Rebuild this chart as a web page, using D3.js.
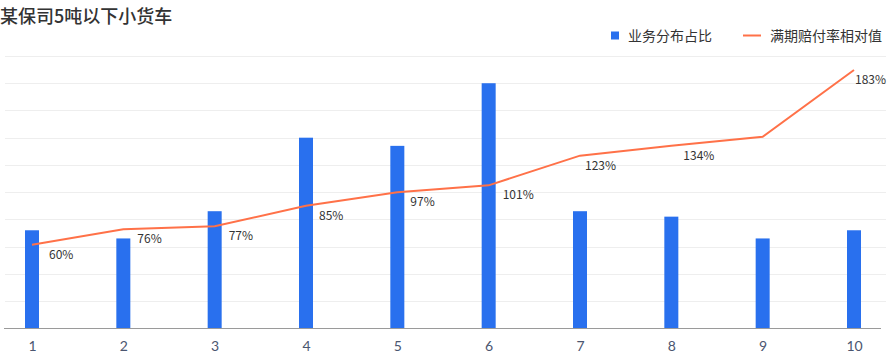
<!DOCTYPE html>
<html>
<head>
<meta charset="utf-8">
<script src="https://cdn.jsdelivr.net/npm/d3@7/dist/d3.min.js"></script>
<style>
  html, body { margin: 0; padding: 0; background: #fff; }
  svg { display: block; font-family: "Noto Sans CJK SC", "Noto Sans", sans-serif; }
</style>
</head>
<body>
<svg id="chart"></svg>
<script>
const categories = ["1", "2", "3", "4", "5", "6", "7", "8", "9", "10"];
// 业务分布占比 (left scale 0-10)
const shareValues = [3.6, 3.3, 4.3, 7.0, 6.7, 9.0, 4.3, 4.1, 3.3, 3.6];
// 满期赔付率相对值 (right scale 0-200)
const lossValues = [61.4, 72.7, 74.9, 90.0, 99.9, 105.0, 126.8, 134.1, 140.7, 189.7];
const lossLabels = ["60%", "76%", "77%", "85%", "97%", "101%", "123%", "134%", "", "183%"];
const labelDx = [17, 14, 14, 13, 13, 14, 5, 12, 12, 1];
const legendNames = ["业务分布占比", "满期赔付率相对值"];

const width = 888, height = 358;
const barColor = "#2970ee", lineColor = "#ff7148";

const svg = d3.select("#chart").attr("width", width).attr("height", height);

const x = d3.scalePoint().domain(categories).range([32, 854]);
const yBar = d3.scaleLinear().domain([0, 10]).range([328.3, 56]);
const yLine = d3.scaleLinear().domain([0, 200]).range([328.3, 56]);

// grid
svg.append("g")
  .selectAll("line")
  .data(yBar.ticks(10).filter(d => d > 0))
  .enter()
  .append("line")
  .attr("x1", 5).attr("x2", 886)
  .attr("y1", d => Math.round(yBar(d)) + 0.5)
  .attr("y2", d => Math.round(yBar(d)) + 0.5)
  .attr("stroke", "#eeeeee");

// bars
svg.append("g")
  .selectAll("rect")
  .data(shareValues)
  .enter()
  .append("rect")
  .attr("x", (d, i) => x(categories[i]) - 7)
  .attr("width", 14)
  .attr("y", d => yBar(d))
  .attr("height", d => yBar(0) - yBar(d))
  .attr("fill", barColor);

// x axis
const xAxis = svg.append("g")
  .attr("transform", `translate(0, ${Math.round(yBar(0)) + 0.5})`)
  .call(d3.axisBottom(x).tickSize(0).tickPadding(13));
xAxis.select(".domain").remove();
xAxis.append("line").attr("x1", 4).attr("x2", 881).attr("stroke", "#9a9a9a");
xAxis.selectAll("text")
  .attr("fill", "#4b5670")
  .style("font-size", "14px")
  .style("font-family", "Lato, 'Noto Sans', sans-serif");

// line
const line = d3.line()
  .x((d, i) => x(categories[i]))
  .y(d => yLine(d));

svg.append("path")
  .datum(lossValues)
  .attr("d", line)
  .attr("fill", "none")
  .attr("stroke", lineColor)
  .attr("stroke-width", 2);

svg.append("g")
  .selectAll("text")
  .data(lossValues)
  .enter()
  .append("text")
  .attr("x", (d, i) => x(categories[i]) + labelDx[i])
  .attr("y", d => yLine(d) + 14)
  .attr("fill", "#333")
  .style("font-size", "12px")
  .text((d, i) => lossLabels[i]);

// title
svg.append("text")
  .attr("x", 0).attr("y", 23)
  .attr("fill", "#333")
  .style("font-size", "18px")
  .style("font-weight", 500)
  .text("某保司5吨以下小货车");

// legend
const legend = svg.append("g").style("font-size", "14px").attr("fill", "#333");
legend.append("rect").attr("x", 611).attr("y", 31.5).attr("width", 8).attr("height", 8).attr("fill", barColor);
legend.append("text").attr("x", 628).attr("y", 40.5).text(legendNames[0]);
legend.append("line").attr("x1", 743).attr("x2", 761).attr("y1", 35.5).attr("y2", 35.5)
  .attr("stroke", lineColor).attr("stroke-width", 2);
legend.append("text").attr("x", 770).attr("y", 40.5).text(legendNames[1]);
</script>
</body>
</html>
